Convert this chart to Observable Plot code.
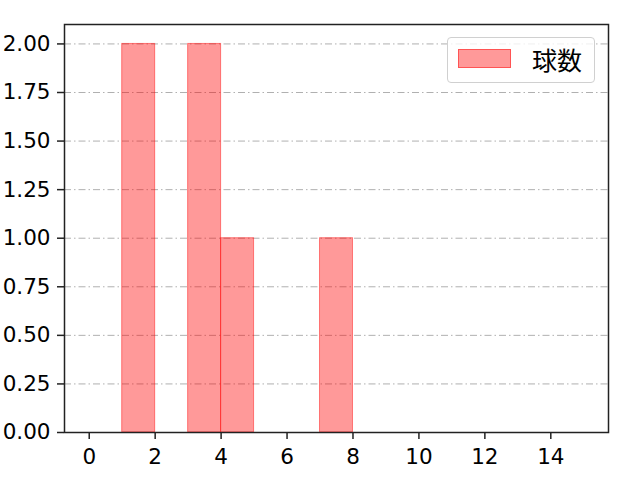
<!DOCTYPE html>
<html>
<head>
<meta charset="utf-8">
<script src="https://cdn.jsdelivr.net/npm/d3@7"></script>
<script src="https://cdn.jsdelivr.net/npm/@observablehq/plot@0.6"></script>
<style>
  body { margin: 0; background: #fff; }
  #wrap { position: relative; width: 640px; height: 480px; font-family: "DejaVu Sans", sans-serif; }
  #wrap svg text { font-size: 21.5px; font-family: "DejaVu Sans", sans-serif; fill: #000; }
  #legend { position: absolute; left: 447px; top: 37px; width: 148px; height: 46px; border: 1px solid #d0d0d0; border-radius: 4px; background: rgba(255,255,255,0.8); box-sizing: border-box; }
  #legend .patch { position: absolute; left: 10px; top: 11px; width: 53px; height: 19px; background: rgba(255,0,0,0.4); border: 1px solid rgba(255,0,0,0.45); box-sizing: border-box; }
  #legend .label { position: absolute; left: 84px; top: 4px; font-family: "Noto Sans CJK JP", sans-serif; font-size: 25px; line-height: 34px; color: #000; }
</style>
</head>
<body>
<div id="wrap"></div>
<script>
// Histogram bins (left edge, right edge) and counts
const binStart = [1, 3, 4, 7];
const binEnd   = [2, 4, 5, 8];
const counts   = [2, 2, 1, 1];
const seriesName = "球数";
const xTicks = [0, 2, 4, 6, 8, 10, 12, 14];
const yTicks = [0, 0.25, 0.5, 0.75, 1.0, 1.25, 1.5, 1.75, 2.0];

const bins = binStart.map((s, i) => ({x1: s, x2: binEnd[i], y: counts[i]}));

const chart = Plot.plot({
  width: 640,
  height: 480,
  marginLeft: 64,
  marginRight: 32,
  marginTop: 24,
  marginBottom: 48,
  style: {fontFamily: '"DejaVu Sans", sans-serif', fontSize: "21.5px", color: "#000", background: "#fff"},
  x: {domain: [-0.75, 15.75], label: null},
  y: {domain: [0, 2.1], label: null},
  marks: [
    Plot.ruleY(yTicks, {stroke: "#b0b0b0", strokeWidth: 1, strokeDasharray: "7,3,1.5,3"}),
    Plot.rectY(bins, {x1: "x1", x2: "x2", y1: 0, y2: "y", fill: "red", fillOpacity: 0.4, stroke: "red", strokeOpacity: 0.45, strokeWidth: 1, inset: 0}),
    Plot.axisX({ticks: xTicks, tickFormat: d => String(d), tickSize: 7, tickPadding: 9.5, strokeWidth: 1.5, stroke: "#222", fontSize: 21.5, label: null}),
    Plot.axisY({ticks: yTicks, tickFormat: d3.format(".2f"), tickSize: 7, tickPadding: 7, strokeWidth: 1.5, stroke: "#222", fontSize: 21.5, label: null}),
    Plot.frame({stroke: "#222", strokeWidth: 1.5})
  ]
});

const wrap = document.getElementById("wrap");
wrap.appendChild(chart);
const legend = document.createElement("div");
legend.id = "legend";
legend.innerHTML = `<div class="patch"></div><div class="label">${seriesName}</div>`;
wrap.appendChild(legend);
</script>
</body>
</html>
